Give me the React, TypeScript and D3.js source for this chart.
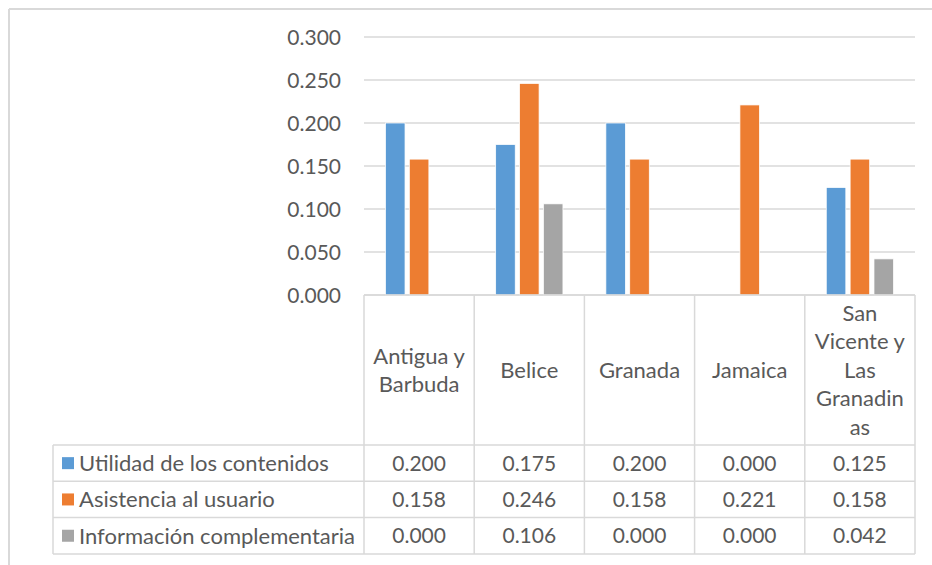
import React from "react";
import * as d3 from "d3";

const categories: string[][] = [
  ["Antigua y", "Barbuda"],
  ["Belice"],
  ["Granada"],
  ["Jamaica"],
  ["San", "Vicente y", "Las", "Granadin", "as"],
];
const categoryKeys = ["Antigua y Barbuda", "Belice", "Granada", "Jamaica", "San Vicente y Las Granadinas"];
const seriesNames = ["Utilidad de los contenidos", "Asistencia al usuario", "Información complementaria"];
const seriesColors = ["#5b9bd5", "#ed7d31", "#a5a5a5"];
const utilidad = [0.2, 0.175, 0.2, 0.0, 0.125];
const asistencia = [0.158, 0.246, 0.158, 0.221, 0.158];
const informacion = [0.0, 0.106, 0.0, 0.0, 0.042];
const yTicks = [0, 0.05, 0.1, 0.15, 0.2, 0.25, 0.3];

const seriesValues = [utilidad, asistencia, informacion];

const W = 932;
const H = 565;
const plotLeft = 364;
const plotRight = 915;
const plotTop = 37;
const plotBottom = 295;
const catRowBottom = 445;
const rowH = 36.3;
const tableLeft = 53;
const font = "Lato, 'Noto Sans', sans-serif";
const fs = 21;
const fsLabel = 22;
const textColor = "#595959";
const gridColor = "#d9d9d9";

export default function App() {
  const x0 = d3.scaleBand<string>().domain(categoryKeys).range([plotLeft, plotRight]).padding(0);
  const x1 = d3
    .scaleBand<string>()
    .domain(seriesNames)
    .range([0, x0.bandwidth()])
    .paddingInner(0.18)
    .paddingOuter(0.9);
  const y = d3.scaleLinear().domain([0, 0.3]).range([plotBottom, plotTop]);
  const fmt = d3.format(".3f");
  const tableBottom = catRowBottom + rowH * seriesNames.length;
  const colEdges = [plotLeft, ...categoryKeys.map((c) => (x0(c) as number) + x0.bandwidth())];

  return (
    <svg width={W} height={H} style={{ position: "absolute", left: 0, top: 0 }} fontFamily={font}>
      <rect x={0} y={0} width={W} height={H} fill="#fff" />
      {/* outer chart border (cropped) */}
      <line x1={9} y1={9} x2={W + 5} y2={9} stroke={gridColor} strokeWidth={2} />
      <line x1={9} y1={9} x2={9} y2={H + 5} stroke={gridColor} strokeWidth={2} />

      {/* gridlines */}
      {yTicks.map((t) => (
        <line key={"g" + t} x1={plotLeft} x2={plotRight} y1={y(t)} y2={y(t)} stroke={gridColor} strokeWidth={1.5} />
      ))}
      {/* y tick labels */}
      {yTicks.map((t) => (
        <text key={"t" + t} x={341} y={y(t)} dy="0.36em" textAnchor="end" fontSize={fs} fill={textColor}>
          {fmt(t)}
        </text>
      ))}

      {/* bars */}
      {categoryKeys.map((c, ci) =>
        seriesNames.map((s, si) => {
          const v = seriesValues[si][ci];
          if (v <= 0) return null;
          const bx = (x0(c) as number) + (x1(s) as number);
          return (
            <rect
              key={c + s}
              x={bx}
              y={y(v)}
              width={x1.bandwidth()}
              height={y(0) - y(v)}
              fill={seriesColors[si]}
              stroke="#ffffff"
              strokeWidth={0.75}
            />
          );
        })
      )}

      {/* data table lines */}
      <line x1={plotLeft} x2={plotRight} y1={plotBottom} y2={plotBottom} stroke={gridColor} strokeWidth={1.5} />
      {seriesNames.map((s, i) => (
        <line
          key={"hl" + s}
          x1={tableLeft}
          x2={plotRight}
          y1={catRowBottom + rowH * i}
          y2={catRowBottom + rowH * i}
          stroke={gridColor}
          strokeWidth={1.5}
        />
      ))}
      <line x1={tableLeft} x2={plotRight} y1={tableBottom} y2={tableBottom} stroke={gridColor} strokeWidth={1.5} />
      <line x1={tableLeft} x2={tableLeft} y1={catRowBottom} y2={tableBottom} stroke={gridColor} strokeWidth={1.5} />
      {colEdges.map((cx, i) => (
        <line key={"vl" + i} x1={cx} x2={cx} y1={plotBottom} y2={tableBottom} stroke={gridColor} strokeWidth={1.5} />
      ))}

      {/* category labels */}
      {categoryKeys.map((c, ci) => {
        const lines = categories[ci];
        const cx = (x0(c) as number) + x0.bandwidth() / 2;
        const cy = (plotBottom + catRowBottom) / 2;
        const lh = 28.5;
        return (
          <text key={"c" + c} textAnchor="middle" fontSize={fsLabel} fill={textColor}>
            {lines.map((l, li) => (
              <tspan key={li} x={cx} y={cy + (li - (lines.length - 1) / 2) * lh} dy="0.36em">
                {l}
              </tspan>
            ))}
          </text>
        );
      })}

      {/* table rows */}
      {seriesNames.map((s, si) => {
        const cy = catRowBottom + rowH * si + rowH / 2;
        return (
          <g key={"r" + s}>
            <rect x={62} y={cy - 6} width={12} height={12} fill={seriesColors[si]} />
            <text x={79} y={cy} dy="0.36em" fontSize={fsLabel} fill={textColor}>
              {s}
            </text>
            {categoryKeys.map((c, ci) => (
              <text
                key={c}
                x={(x0(c) as number) + x0.bandwidth() / 2}
                y={cy}
                dy="0.36em"
                textAnchor="middle"
                fontSize={fs}
                fill={textColor}
              >
                {fmt(seriesValues[si][ci])}
              </text>
            ))}
          </g>
        );
      })}
    </svg>
  );
}
